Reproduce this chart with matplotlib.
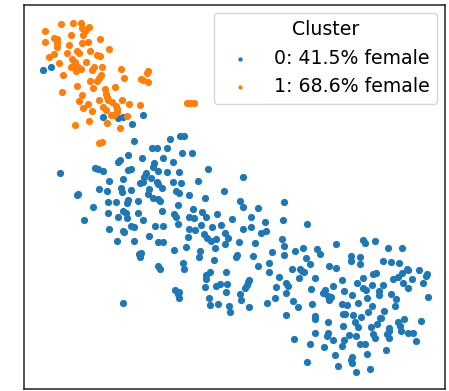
import matplotlib.pyplot as plt

# 2-d embedding coordinates (x right, y down)
cluster0_pts = [
    (43.3, 70.0), (50.7, 67.3), (102.7, 117.3), (118.3, 118.0), (123.3, 117.3), (143.3, 115.3), (131.7, 123.7),
    (170.0, 139.3), (180.0, 136.0), (184.0, 135.5), (134.3, 140.7),
    (151.7, 147.7), (156.7, 148.3), (166.7, 148.3),
    (182.3, 152.7), (191.7, 153.3), (128.3, 155.0),
    (118.3, 161.7), (120.0, 160.0), (142.3, 158.3), (162.7, 158.3), (172.7, 162.3), (154.3, 163.3), (152.7, 166.7),
    (95.0, 167.7), (98.3, 169.3), (102.7, 170.7), (128.3, 170.0), (131.0, 169.3),
    (158.3, 170.7), (166.7, 171.7), (179.0, 171.7), (207.7, 169.0), (60.0, 172.7),
    (146.0, 173.3), (144.3, 176.7), (150.7, 178.3), (123.3, 178.7), (109.0, 181.0),
    (157.3, 181.7), (158.3, 184.0), (173.3, 181.7), (180.7, 183.3), (198.3, 181.0), (243.3, 177.3),
    (140.0, 183.3), (143.3, 182.3),
    (99.3, 189.0), (106.7, 191.0), (120.7, 188.3), (121.7, 191.7), (130.7, 190.0),
    (149.3, 189.3), (148.3, 194.0), (162.3, 188.3), (176.0, 191.0), (179.0, 192.7), (189.0, 195.0), (224.3, 191.0),
    (76.7, 195.0), (78.3, 194.0),
    (153.3, 198.3), (157.7, 199.3), (160.0, 200.7),
    (205.0, 197.7), (137.7, 200.7), (128.3, 200.0), (126.7, 203.3), (116.0, 202.0), (108.3, 201.7),
    (93.3, 206.7), (177.7, 205.0), (240.0, 201.0), (242.7, 206.7), (258.3, 208.3),
    (123.3, 210.7), (126.0, 213.3), (138.3, 212.7), (108.3, 213.3), (117.7, 216.7), (126.7, 218.3),
    (162.3, 211.0), (174.3, 214.3), (176.0, 217.3), (189.3, 216.7), (193.3, 209.3), (194.0, 218.3),
    (201.7, 212.3), (205.7, 217.3), (216.7, 214.0), (231.7, 219.3), (251.0, 216.7),
    (84.3, 220.0), (142.7, 220.0),
    (109.3, 229.0), (130.7, 226.0), (134.0, 227.3), (155.0, 226.0), (163.3, 226.0), (178.3, 224.3),
    (189.3, 229.0), (195.0, 230.0), (200.7, 225.0), (211.7, 227.3), (221.0, 225.0),
    (243.3, 229.3), (250.7, 227.3), (122.7, 231.0), (124.0, 231.7), (149.0, 235.7),
    (188.3, 237.3), (204.3, 234.3), (206.7, 237.7), (211.0, 240.7), (216.0, 239.3),
    (225.0, 232.7), (228.3, 238.3), (225.0, 244.3), (239.0, 242.3), (255.0, 242.7),
    (116.7, 241.0), (134.3, 241.0), (158.3, 242.3), (162.7, 242.3),
    (174.3, 250.0), (185.7, 246.7), (200.0, 251.0), (199.3, 256.7), (215.0, 248.3),
    (139.0, 254.3), (141.0, 252.7), (140.0, 257.3),
    (158.3, 265.7), (160.0, 269.0), (182.7, 263.3), (184.3, 269.0),
    (214.0, 260.0), (236.7, 255.0), (235.7, 256.7), (253.3, 256.0), (258.3, 265.7),
    (210.0, 271.7), (205.7, 275.0), (205.7, 279.3), (205.0, 286.7),
    (225.7, 271.7), (215.7, 286.0), (220.0, 284.3), (227.3, 284.0), (225.7, 291.7),
    (246.7, 285.0), (248.3, 281.7), (249.3, 280.0), (245.0, 288.3),
    (175.0, 290.0), (179.0, 292.3), (179.3, 298.3), (178.3, 294.0),
    (209.3, 297.7), (210.0, 305.0), (217.7, 304.3), (229.3, 305.7), (230.0, 311.7),
    (240.0, 294.3), (240.7, 300.0), (249.3, 307.3), (123.3, 303.3),
    (284.3, 201.7), (282.7, 220.0), (306.7, 224.0),
    (265.0, 222.3), (266.0, 230.7), (261.0, 233.3),
    (281.7, 239.0), (284.3, 245.7), (284.3, 255.0), (271.7, 251.7),
    (295.0, 250.7), (303.3, 247.7), (317.3, 249.3), (320.0, 254.0), (335.7, 244.0),
    (362.7, 240.0), (365.3, 242.7), (375.0, 241.0), (387.7, 247.7), (401.7, 248.3),
    (351.3, 255.7), (350.7, 261.0), (360.0, 257.3), (360.0, 264.3),
    (306.0, 258.3), (310.3, 264.3), (329.0, 265.7), (335.7, 268.3),
    (382.7, 261.0), (391.0, 262.3), (399.3, 263.3), (407.7, 270.0), (419.3, 270.0), (427.3, 274.0), (426.0, 276.0),
    (269.0, 263.3), (269.3, 272.3), (279.0, 276.7),
    (292.3, 269.0), (300.0, 269.3), (301.7, 271.0), (304.0, 271.7), (299.3, 278.3), (315.0, 277.7),
    (286.0, 283.3), (287.7, 285.7), (275.7, 287.3), (275.3, 297.7), (286.0, 293.3),
    (311.0, 289.3), (312.3, 304.0), (293.3, 300.7), (297.7, 307.3), (267.3, 302.7), (286.3, 315.0),
    (342.3, 280.0), (333.3, 286.0), (325.0, 290.0), (323.3, 292.7), (327.7, 295.7), (330.7, 296.7), (329.0, 300.0),
    (344.3, 291.0), (352.0, 295.0), (356.7, 282.7), (363.3, 278.3), (373.3, 274.0), (375.7, 273.3),
    (383.3, 285.0), (371.7, 285.0), (362.7, 288.3), (366.0, 290.0), (379.0, 291.0), (379.0, 295.0),
    (392.7, 279.3), (398.3, 277.3), (401.7, 273.3), (407.3, 269.3), (412.3, 279.3), (403.3, 283.3),
    (408.3, 287.7), (427.7, 297.3), (422.7, 282.7), (391.0, 294.0), (396.0, 299.0), (395.0, 306.0),
    (366.7, 297.7), (358.3, 302.7), (371.7, 306.0), (384.0, 310.7), (380.0, 318.3), (368.3, 312.3),
    (341.7, 304.0), (346.7, 305.0), (345.0, 314.0),
    (315.0, 316.0), (315.0, 319.0), (328.3, 321.7), (342.7, 326.0), (343.3, 314.0),
    (353.3, 315.0), (361.0, 316.7), (355.0, 321.7), (357.7, 327.3),
    (370.7, 327.3), (376.7, 324.0), (381.0, 318.3), (398.3, 322.3), (400.0, 326.0), (404.3, 319.0),
    (388.7, 328.3), (389.3, 330.7), (401.0, 331.0), (408.3, 332.7), (413.3, 332.7), (421.0, 320.7),
    (373.3, 334.0), (375.0, 338.3), (387.3, 334.3), (389.0, 338.3), (416.0, 340.7), (385.7, 350.0),
    (315.0, 332.7), (326.7, 336.0), (328.3, 333.3), (332.7, 340.0), (344.0, 340.0), (349.0, 335.0),
    (355.7, 336.0), (341.7, 345.7), (360.0, 344.3), (365.0, 344.0), (324.0, 346.7), (310.0, 344.0), (293.7, 339.0),
    (335.0, 355.0), (351.7, 356.7), (351.0, 360.0), (351.7, 363.3), (366.7, 354.0),
    (307.3, 361.7), (337.7, 365.7), (355.7, 371.7), (370.0, 369.3),
]

cluster1_pts = [
    (61.0, 24.0), (73.3, 23.3), (81.0, 23.3), (89.3, 27.3), (81.7, 28.3), (85.0, 30.7), (44.7, 30.7),
    (71.0, 35.3), (83.3, 35.3), (54.0, 38.0), (56.7, 38.7), (45.3, 41.7), (57.3, 43.3), (56.7, 46.7),
    (69.3, 44.7), (82.3, 43.3), (88.3, 42.3), (100.0, 39.3), (109.3, 48.7), (67.3, 53.3), (76.7, 50.7),
    (78.7, 53.3), (90.0, 50.7), (96.7, 55.3), (100.0, 55.7), (48.7, 57.3), (54.0, 54.0), (71.7, 58.7),
    (75.0, 62.0), (85.7, 62.0), (59.3, 63.3), (73.3, 66.0), (70.7, 66.7), (78.3, 67.3), (80.7, 68.7),
    (75.7, 71.0), (92.0, 70.0), (94.3, 67.3), (101.7, 66.7), (63.3, 75.3), (121.3, 69.3), (148.3, 70.7),
    (146.7, 72.7), (90.0, 80.7), (96.7, 80.7), (99.0, 78.3), (101.0, 75.3), (124.0, 78.0), (141.0, 78.7),
    (143.3, 80.0), (148.3, 82.0), (76.7, 86.0), (93.3, 88.0), (105.0, 88.7), (115.0, 87.3), (62.0, 92.0),
    (106.0, 94.0), (107.3, 97.3), (81.7, 95.3), (79.0, 100.7), (88.3, 104.0), (99.0, 100.0), (108.3, 100.0),
    (111.7, 102.0), (121.7, 100.0), (83.3, 108.0), (92.3, 110.7), (103.3, 107.3), (105.7, 110.0),
    (116.0, 106.0), (116.7, 109.3), (128.7, 104.0), (140.0, 104.7), (111.3, 114.7), (114.3, 114.7),
    (117.3, 112.0), (126.7, 116.0), (107.3, 122.7), (88.7, 121.3), (75.3, 125.3), (120.0, 128.3),
    (187.3, 102.7), (190.0, 102.7), (194.3, 102.7), (99.0, 142.5), (101.5, 142.0),
]

labels = ['0: 41.5% female', '1: 68.6% female']
colors = ['#1f77b4', '#ff7f0e']

fig = plt.figure(figsize=(4.49, 3.91), dpi=100)
ax = fig.add_axes([24 / 449, 2 / 391, 421 / 449, 384 / 391])

for pts, lab, col in zip([cluster0_pts, cluster1_pts], labels, colors):
    xs, ys = zip(*pts)
    ax.scatter(xs, ys, s=27, color=col, linewidths=0, label=lab)

ax.set_xlim(24, 445)
ax.set_ylim(389, 5)  # y grows downward
ax.set_xticks([])
ax.set_yticks([])
for sp in ax.spines.values():
    sp.set_linewidth(1.1)
    sp.set_color('#222222')

ax.legend(title='Cluster', loc='upper right', fontsize=13.6, title_fontsize=13.6,
          markerscale=0.6, borderaxespad=0.4)

fig.savefig('out.png', dpi=100)
